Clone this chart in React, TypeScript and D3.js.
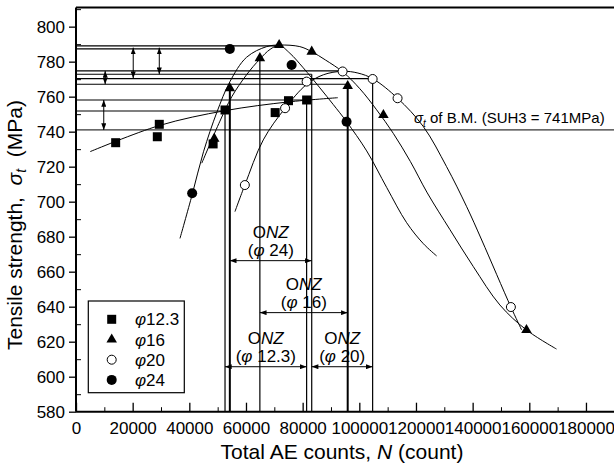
import React, { useRef, useEffect } from 'react'
import * as d3 from 'd3'

type Pt = [number, number]

const xTicks = [0, 20000, 40000, 60000, 80000, 100000, 120000, 140000, 160000, 180000]
const yTicks = [580, 600, 620, 640, 660, 680, 700, 720, 740, 760, 780, 800]

// measured points [N, sigma_t]
const phi123: Pt[] = [
  [14000, 733.7], [28700, 737.1], [29400, 744.2], [48400, 733], [52600, 752.4],
  [70300, 750.9], [75000, 757.7], [81400, 758.1]
]
const phi16: Pt[] = [
  [48800, 736], [54300, 764.8], [64900, 782], [71700, 789.5], [83200, 785.7],
  [95900, 766.1], [108500, 749.5], [159000, 626.7]
]
const phi20: Pt[] = [
  [59600, 709.5], [73800, 753.4], [81400, 768.6], [94100, 774.4], [104700, 770.1],
  [113500, 759.1], [153500, 639.8]
]
const phi24: Pt[] = [[41000, 704.8], [54300, 787.3], [76100, 778.1], [95500, 745.7]]

// fitted curves
const fit123: Pt[] = [[5000, 728.6], [29400, 743.5], [52600, 752], [75000, 757], [92400, 759.4]]
const fitA: Pt[] = [
  [36700, 679], [41000, 704], [45000, 728.5], [49700, 751], [54300, 768.5], [60200, 782.5],
  [67300, 788.6], [72000, 789.5], [79000, 788.6], [83200, 785.7], [88000, 781], [94300, 774],
  [100200, 764.5], [106100, 752.5], [112000, 739], [118000, 723], [124000, 705], [132000, 684],
  [140200, 663], [149600, 641], [159000, 626.7], [169600, 615.8]
]
const fitB: Pt[] = [
  [44400, 722], [50800, 746], [55000, 760], [60200, 772.5], [64900, 781.5], [68500, 787],
  [71700, 789.3], [75500, 784.8], [80200, 776.5], [86100, 765], [90800, 755.5], [95500, 745.7],
  [102600, 729], [109700, 708], [116700, 688], [122600, 676], [127300, 669]
]
const fitC: Pt[] = [
  [56100, 694.3], [59600, 709.5], [66100, 735.3], [73800, 753.4], [81400, 767], [87300, 772.5],
  [94100, 774.5], [99500, 773.5], [104900, 770.1], [113500, 759.1], [122600, 742.9],
  [130800, 720], [137900, 697.1], [143200, 678.1], [153500, 639.8], [157300, 626.7]
]

const baseMetal = 741
// horizontal guides [sigma, N end]
const hGuides: Pt[] = [
  [789, 71700], [787.3, 54300], [774.7, 94100], [772.8, 83200], [770.3, 104700],
  [767.1, 95900], [758.1, 81400], [751.8, 52600]
]
// vertical guides [N, sigma top]
const vGuides: Pt[] = [
  [52600, 751.8], [54300, 764.8], [64900, 782], [81400, 758.1], [83200, 772.8],
  [95900, 766.1], [104700, 770.3]
]
// double arrows [N, sigma1, sigma2]
const diffArrows: [number, number, number][] = [
  [20200, 788, 770.5], [29400, 788, 772.8], [10300, 774.7, 767.1], [9800, 758.1, 741]
]
const onzLabels = ['24', '16', '12.3', '20']
const onzStart = [54300, 64900, 52600, 83200]
const onzEnd = [83200, 95900, 81400, 104700]
const onzLevel = [666.3, 636.6, 605.7, 605.7]

const legendLabels = ['12.3', '16', '20', '24']

const App = () => {
  const chart = useRef<SVGSVGElement>(null)
  const dims = { width: 614, height: 470 }

  useEffect(() => {
    const svg = d3.select(chart.current)
    svg.selectAll('*').remove()
    const font = '"Liberation Sans", Arial, Helvetica, sans-serif'

    const x = d3.scaleLinear().domain([0, 190000]).range([76, 614.3])
    const y = d3.scaleLinear().domain([580, 811]).range([411.7, 7.4])

    svg.append('defs').append('marker')
      .attr('id', 'head')
      .attr('viewBox', '0 0 8 6')
      .attr('refX', 8).attr('refY', 3)
      .attr('markerWidth', 7).attr('markerHeight', 5)
      .attr('markerUnits', 'userSpaceOnUse')
      .attr('orient', 'auto-start-reverse')
      .append('path').attr('d', 'M0,0L8,3L0,6Z').attr('fill', '#000')

    // axes
    const xg = svg.append('g').attr('transform', `translate(0,${y(580)})`)
      .call(d3.axisBottom(x).tickValues(xTicks).tickSizeInner(-9).tickSizeOuter(0)
        .tickPadding(10).tickFormat(d3.format('d')))
    xg.attr('font-size', 17).attr('font-family', font)
    xg.select('.domain').remove()
    xg.selectAll('line').attr('stroke-width', 1.3)

    const xm = svg.append('g').attr('transform', `translate(0,${y(580)})`)
      .call(d3.axisBottom(x).tickValues(d3.range(10000, 190000, 20000)).tickSizeInner(-4.5)
        .tickSizeOuter(0).tickFormat(() => ''))
    xm.select('.domain').remove()

    const yg = svg.append('g').attr('transform', `translate(${x(0)},0)`)
      .call(d3.axisLeft(y).tickValues(yTicks).tickSizeInner(7).tickSizeOuter(0).tickPadding(4))
    yg.attr('font-size', 17).attr('font-family', font)
    yg.select('.domain').remove()
    yg.selectAll('line').attr('stroke-width', 1.3)

    const ym = svg.append('g').attr('transform', `translate(${x(0)},0)`)
      .call(d3.axisLeft(y).tickValues(d3.range(590, 811, 20)).tickSizeInner(-5)
        .tickSizeOuter(0).tickFormat(() => ''))
    ym.select('.domain').remove()

    const frame = svg.append('g').attr('stroke', '#000').attr('stroke-width', 2)
    frame.append('line').attr('x1', x(0)).attr('x2', x(0)).attr('y1', y(811)).attr('y2', y(580))
    frame.append('line').attr('x1', x(0)).attr('x2', 614).attr('y1', y(580)).attr('y2', y(580))
    frame.append('line').attr('x1', x(0)).attr('x2', 614).attr('y1', y(811)).attr('y2', y(811))

    // guides
    const guides = svg.append('g').attr('stroke', '#000').attr('fill', 'none')
    guides.append('line')
      .attr('x1', x(0)).attr('x2', 614).attr('y1', y(baseMetal)).attr('y2', y(baseMetal))
      .attr('stroke-width', 1)
    guides.selectAll('.h').data(hGuides).join('line')
      .attr('x1', x(0)).attr('x2', d => x(d[1]))
      .attr('y1', d => y(d[0])).attr('y2', d => y(d[0]))
      .attr('stroke-width', 1.2)
    guides.selectAll('.v').data(vGuides).join('line')
      .attr('x1', d => x(d[0])).attr('x2', d => x(d[0]))
      .attr('y1', d => y(d[1])).attr('y2', y(580))
      .attr('stroke-width', (d, i) => (i === 1 || i === 5 ? 2 : 1.2))
    guides.selectAll('.a').data(diffArrows).join('line')
      .attr('x1', d => x(d[0])).attr('x2', d => x(d[0]))
      .attr('y1', d => y(d[1])).attr('y2', d => y(d[2]))
      .attr('stroke-width', 1)
      .attr('marker-start', 'url(#head)').attr('marker-end', 'url(#head)')

    // ONZ spans
    const onz = svg.append('g').attr('font-family', font).attr('font-size', 17)
    onzLabels.forEach((lab, i) => {
      const x0 = x(onzStart[i]), x1 = x(onzEnd[i]), yy = y(onzLevel[i])
      const mid = (x0 + x1) / 2
      onz.append('line')
        .attr('x1', x0).attr('x2', x1).attr('y1', yy).attr('y2', yy)
        .attr('stroke', '#000').attr('stroke-width', 1)
        .attr('marker-start', 'url(#head)').attr('marker-end', 'url(#head)')
      const t1 = onz.append('text').attr('x', mid).attr('y', yy - 22.5).attr('text-anchor', 'middle')
      t1.append('tspan').text('O')
      t1.append('tspan').attr('font-style', 'italic').text('NZ')
      const t2 = onz.append('text').attr('x', mid).attr('y', yy - 4.5).attr('text-anchor', 'middle')
        .style('white-space', 'pre')
      t2.append('tspan').text('(')
      t2.append('tspan').attr('font-style', 'italic').text('φ')
      t2.append('tspan').text(` ${lab})`)
    })

    // fitted curves
    const line = d3.line<Pt>().x(d => x(d[0])).y(d => y(d[1])).curve(d3.curveCatmullRom.alpha(0.5))
    svg.append('g').attr('fill', 'none').attr('stroke', '#000').attr('stroke-width', 1)
      .selectAll('path').data([fit123, fitA, fitB, fitC]).join('path').attr('d', line)

    // markers
    const tri = d3.symbol().type(d3.symbolTriangle).size(48)
    const drawSquares = (g: any, data: Pt[]) =>
      g.selectAll('.sq').data(data).join('rect').attr('class', 'sq')
        .attr('x', (d: Pt) => x(d[0]) - 4.5).attr('y', (d: Pt) => y(d[1]) - 4.5)
        .attr('width', 9).attr('height', 9).attr('fill', '#000')
    const drawTris = (g: any, data: Pt[]) =>
      g.selectAll('.tr').data(data).join('path').attr('class', 'tr')
        .attr('d', tri).attr('transform', (d: Pt) => `translate(${x(d[0])},${y(d[1])})`)
        .attr('fill', '#000')
    const drawOpen = (g: any, data: Pt[]) =>
      g.selectAll('.oc').data(data).join('circle').attr('class', 'oc')
        .attr('cx', (d: Pt) => x(d[0])).attr('cy', (d: Pt) => y(d[1])).attr('r', 4.5)
        .attr('fill', '#fff').attr('stroke', '#000').attr('stroke-width', 1)
    const drawDots = (g: any, data: Pt[]) =>
      g.selectAll('.fc').data(data).join('circle').attr('class', 'fc')
        .attr('cx', (d: Pt) => x(d[0])).attr('cy', (d: Pt) => y(d[1])).attr('r', 5)
        .attr('fill', '#000')

    const pts = svg.append('g')
    drawSquares(pts.append('g'), phi123)
    drawOpen(pts.append('g'), phi20)
    drawDots(pts.append('g'), phi24)
    drawTris(pts.append('g'), phi16)

    // base metal label
    const bm = svg.append('text').attr('x', 414).attr('y', 123)
      .attr('font-family', font).attr('font-size', 15).style('white-space', 'pre')
    bm.append('tspan').attr('font-style', 'italic').text('σ')
    bm.append('tspan').attr('font-style', 'italic').attr('font-size', 10).attr('dy', 4).text('t')
    bm.append('tspan').attr('dy', -4).text(' of B.M. (SUH3 = 741MPa)')

    // legend
    const lg = svg.append('g').attr('font-family', font).attr('font-size', 17)
    lg.append('rect').attr('x', 88.3).attr('y', 301).attr('width', 96).attr('height', 91.7)
      .attr('fill', '#fff').attr('stroke', '#000').attr('stroke-width', 1.2)
    const rows = legendLabels.map((_, i) => 319.3 + i * 20.2)
    lg.append('rect').attr('x', 111.7 - 4.5).attr('y', rows[0] - 4.5).attr('width', 9).attr('height', 9)
    lg.append('path').attr('d', tri).attr('transform', `translate(111.7,${rows[1]})`)
    lg.append('circle').attr('cx', 111.7).attr('cy', rows[2]).attr('r', 4.5)
      .attr('fill', '#fff').attr('stroke', '#000')
    lg.append('circle').attr('cx', 111.7).attr('cy', rows[3]).attr('r', 5)
    legendLabels.forEach((lab, i) => {
      const t = lg.append('text').attr('x', 135).attr('y', rows[i] + 6)
      t.append('tspan').attr('font-style', 'italic').text('φ')
      t.append('tspan').text(lab)
    })

    // axis titles
    const yt = svg.append('text').attr('transform', 'translate(22,225) rotate(-90)')
      .attr('text-anchor', 'middle').attr('font-family', font).attr('font-size', 21)
      .style('white-space', 'pre')
    yt.append('tspan').text('Tensile strength,  ')
    yt.append('tspan').attr('font-style', 'italic').text('σ')
    yt.append('tspan').attr('font-style', 'italic').attr('font-size', 14).attr('dy', 4).text('t')
    yt.append('tspan').attr('dy', -4).text('  (MPa)')

    const xt = svg.append('text').attr('x', 342).attr('y', 459)
      .attr('text-anchor', 'middle').attr('font-family', font).attr('font-size', 21)
      .style('white-space', 'pre')
    xt.append('tspan').text('Total AE counts, ')
    xt.append('tspan').attr('font-style', 'italic').text('N')
    xt.append('tspan').text(' (count)')
  }, [])

  return (
    <div id="chartArea">
      <svg ref={chart} width={dims.width} height={dims.height}
        style={{ position: 'absolute', left: 0, top: 0, background: '#fff' }}></svg>
    </div>
  )
}

export default App
